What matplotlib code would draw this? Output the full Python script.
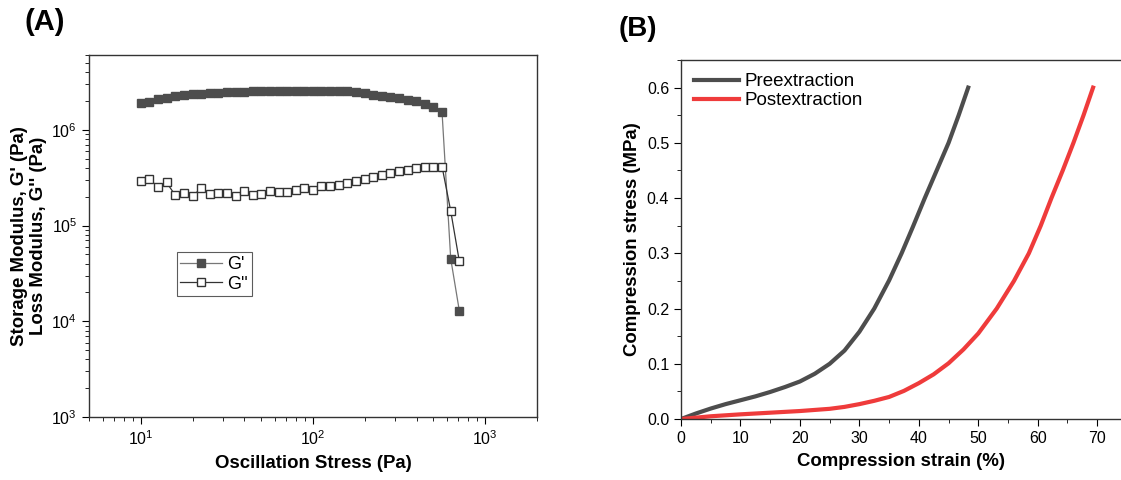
import matplotlib.pyplot as plt
from matplotlib.ticker import LogLocator, MultipleLocator, NullFormatter

plt.rcParams["font.family"] = ["Liberation Sans", "DejaVu Sans"]

# Panel A: oscillation stress sweep
stress_pa = [10, 11.2, 12.6, 14.1, 15.8, 17.8, 20, 22.4, 25.1, 28.2,
             31.6, 35.5, 39.8, 44.7, 50.1, 56.2, 63.1, 70.8, 79.4, 89.1,
             100, 112, 126, 141, 158, 178, 200, 224, 251, 282,
             316, 355, 398, 447, 501, 562, 631, 708]
g_storage = [1.88e6, 1.97e6, 2.10e6, 2.17e6, 2.24e6, 2.31e6, 2.37e6, 2.37e6, 2.41e6, 2.43e6,
             2.47e6, 2.47e6, 2.47e6, 2.51e6, 2.53e6, 2.53e6, 2.53e6, 2.53e6, 2.53e6, 2.53e6,
             2.53e6, 2.53e6, 2.53e6, 2.53e6, 2.53e6, 2.45e6, 2.39e6, 2.33e6, 2.27e6, 2.21e6,
             2.15e6, 2.06e6, 1.98e6, 1.84e6, 1.72e6, 1.52e6, 4.52e4, 1.29e4]
g_loss = [2.91e5, 3.08e5, 2.50e5, 2.82e5, 2.09e5, 2.21e5, 2.01e5, 2.48e5, 2.14e5, 2.21e5,
          2.16e5, 2.05e5, 2.27e5, 2.07e5, 2.13e5, 2.27e5, 2.25e5, 2.25e5, 2.34e5, 2.48e5,
          2.36e5, 2.58e5, 2.58e5, 2.64e5, 2.77e5, 2.91e5, 3.03e5, 3.19e5, 3.34e5, 3.51e5,
          3.68e5, 3.83e5, 3.96e5, 4.09e5, 4.12e5, 4.12e5, 1.42e5, 4.24e4]

# Panel B: compression curves
pre_strain = [0, 2.5, 5, 7.5, 10, 12.5, 15, 17.5, 20, 22.5, 25, 27.5, 30, 32.5,
              35, 37.1, 39, 41.0, 43, 45.0, 46.7, 48.3]
pre_stress = [0, 0.010, 0.019, 0.027, 0.034, 0.041, 0.049, 0.058, 0.068, 0.082, 0.100, 0.124,
              0.158, 0.200, 0.251, 0.300, 0.348, 0.400, 0.450, 0.500, 0.550, 0.600]
post_strain = [0, 5, 10, 15, 20, 25, 27.5, 30, 32.5, 35, 37.5, 40, 42.5, 45, 47.5, 50,
               53.1, 56, 58.5, 60.5, 62.3, 64.2, 66, 67.7, 69.3]
post_stress = [0, 0.005, 0.0085, 0.0115, 0.0145, 0.0185, 0.022, 0.027, 0.033, 0.040, 0.051,
               0.065, 0.081, 0.101, 0.126, 0.155, 0.200, 0.250, 0.300, 0.350, 0.400, 0.450,
               0.500, 0.550, 0.600]

fig = plt.figure(figsize=(11.21, 4.8), dpi=100)

# ---- (A)
ax1 = fig.add_axes([0.0794, 0.131, 0.3996, 0.754])
ax1.plot(stress_pa, g_storage, color="#777777", lw=0.9, marker="s", ms=5.5,
         mfc="#4d4d4d", mec="#4d4d4d", label="G'")
ax1.plot(stress_pa, g_loss, color="#333333", lw=0.9, marker="s", ms=5.5,
         mfc="white", mec="#333333", mew=1.0, label="G''")
ax1.set_xscale("log")
ax1.set_yscale("log")
ax1.set_xlim(5, 2000)
ax1.set_ylim(1e3, 6e6)
ax1.xaxis.set_minor_locator(LogLocator(base=10, subs=range(2, 10)))
ax1.yaxis.set_minor_locator(LogLocator(base=10, subs=range(2, 10)))
ax1.xaxis.set_minor_formatter(NullFormatter())
ax1.yaxis.set_minor_formatter(NullFormatter())
ax1.tick_params(which="both", direction="out", top=False, right=False, labelsize=11.5)
ax1.tick_params(which="major", length=5)
ax1.tick_params(which="minor", length=3)
for s in ax1.spines.values():
    s.set_linewidth(1.0)
    s.set_color("#333333")
ax1.set_xlabel("Oscillation Stress (Pa)", fontsize=13.4, fontweight="bold", labelpad=5)
ax1.set_ylabel("Storage Modulus, G' (Pa)\nLoss Modulus, G'' (Pa)", fontsize=13.4,
               fontweight="bold", labelpad=3, linespacing=1.15)
leg1 = ax1.legend(loc="lower left", bbox_to_anchor=(0.196, 0.334), fontsize=13,
                  frameon=True, fancybox=False, edgecolor="#333333", handlelength=2.3,
                  borderpad=0.2, labelspacing=0.15, handletextpad=0.3, borderaxespad=0)
leg1.get_frame().set_linewidth(0.8)
fig.text(0.022, 0.955, "(A)", fontsize=21, fontweight="bold", va="center")

# ---- (B)
ax2 = fig.add_axes([0.6075, 0.127, 0.3925, 0.748])
ax2.plot(pre_strain, pre_stress, color="#4d4d4d", lw=3.0, label="Preextraction")
ax2.plot(post_strain, post_stress, color="#ef3b3b", lw=3.0, label="Postextraction")
ax2.set_xlim(0, 74)
ax2.set_ylim(0, 0.65)
ax2.xaxis.set_major_locator(MultipleLocator(10))
ax2.xaxis.set_minor_locator(MultipleLocator(5))
ax2.yaxis.set_major_locator(MultipleLocator(0.1))
ax2.yaxis.set_minor_locator(MultipleLocator(0.05))
ax2.yaxis.set_major_formatter(plt.FormatStrFormatter("%.1f"))
ax2.tick_params(which="both", direction="out", top=False, right=False, labelsize=11.5)
ax2.tick_params(which="major", length=5)
ax2.tick_params(which="minor", length=3)
ax2.spines["right"].set_visible(False)
for s in ax2.spines.values():
    s.set_linewidth(1.0)
    s.set_color("#333333")
ax2.set_xlabel("Compression strain (%)", fontsize=13.4, fontweight="bold", labelpad=5)
ax2.set_ylabel("Compression stress (MPa)", fontsize=13.4, fontweight="bold")
ax2.legend(loc="upper left", fontsize=13.5, frameon=False, handlelength=2.4,
           borderaxespad=0.3, labelspacing=0.1, handletextpad=0.3)
fig.text(0.552, 0.94, "(B)", fontsize=20, fontweight="bold", va="center")

fig.savefig("out.png", dpi=100)
